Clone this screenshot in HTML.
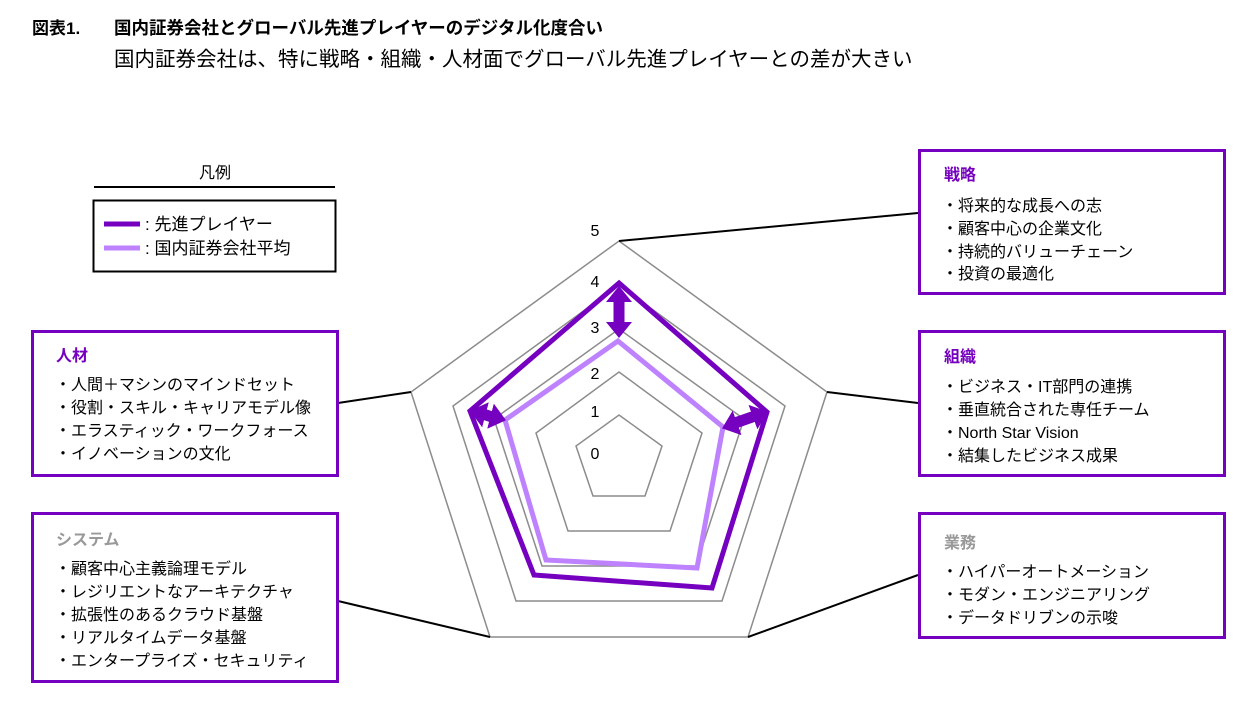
<!DOCTYPE html>
<html><head><meta charset="utf-8"><style>
html,body{margin:0;padding:0;background:#fff;}
svg{display:block;font-family:"Liberation Sans","Noto Sans CJK JP",sans-serif;}
</style></head><body>
<svg width="1255" height="712" viewBox="0 0 1255 712" xmlns="http://www.w3.org/2000/svg">
<defs>
<marker id="ah" viewBox="0 0 16 26" refX="15" refY="13" markerWidth="16" markerHeight="26" markerUnits="userSpaceOnUse" orient="auto-start-reverse">
<path d="M0,0 L16,13 L0,26 Z" fill="#7500c0"/></marker>
</defs>
<text x="32" y="34" font-size="17" font-weight="bold" fill="#000">図表1.</text>
<text x="114" y="34" font-size="17.5" font-weight="bold" fill="#000">国内証券会社とグローバル先進プレイヤーのデジタル化度合い</text>
<text x="114" y="66" font-size="20.5" fill="#000">国内証券会社は、特に戦略・組織・人材面でグローバル先進プレイヤーとの差が大きい</text>

<!-- legend -->
<text x="215" y="178" font-size="16" text-anchor="middle">凡例</text>
<line x1="94" y1="187" x2="335" y2="187" stroke="#000" stroke-width="2"/>
<rect x="93.5" y="200.5" width="242" height="71" fill="none" stroke="#000" stroke-width="2"/>
<line x1="104" y1="224" x2="140" y2="224" stroke="#7500c0" stroke-width="5"/>
<text x="145" y="230" font-size="17">: 先進プレイヤー</text>
<line x1="104" y1="248" x2="140" y2="248" stroke="#be82ff" stroke-width="5"/>
<text x="145" y="254" font-size="17">: 国内証券会社平均</text>

<!-- grid -->
<g fill="none" stroke="#8c8c8c" stroke-width="1.5">
<polygon points="619,415 662,446 645,496 593,496 576,446"/>
<polygon points="619,372 702,433 670,531 568,531 536,433"/>
<polygon points="619,329 744,419 696,566 542,566 494,419"/>
<polygon points="619,285 785,406 722,601 516,601 453,406"/>
<polygon points="619,241 827,392 748,637 490,637 411,392"/>
</g>
<g font-size="16" fill="#000" text-anchor="middle">
<text x="595" y="236">5</text><text x="595" y="287">4</text><text x="595" y="333">3</text>
<text x="595" y="379">2</text><text x="595" y="417">1</text><text x="595" y="459">0</text>
</g>
<!-- connectors -->
<g stroke="#000" stroke-width="2">
<line x1="619" y1="241" x2="918" y2="213"/>
<line x1="827" y1="392" x2="918" y2="403"/>
<line x1="748" y1="637" x2="918" y2="575"/>
<line x1="411" y1="392" x2="338" y2="403"/>
<line x1="490" y1="637" x2="338" y2="601"/>
</g>
<!-- data -->
<polygon points="618,341 723,427 697,568 546,560 505,420" fill="none" stroke="#be82ff" stroke-width="5"/>
<polygon points="619,283 767,412 712,588 534,575 470,411" fill="none" stroke="#7500c0" stroke-width="5"/>
<!-- arrows -->
<g stroke="#7500c0" stroke-width="11">
<line x1="619" y1="300" x2="619" y2="326" />
<line x1="735" y1="423" x2="755" y2="416"/>
<line x1="483" y1="414" x2="492" y2="417"/>
</g>
<line x1="619" y1="287" x2="619" y2="337" stroke="#7500c0" stroke-width="0" marker-start="url(#ah)" marker-end="url(#ah)"/>
<line x1="723" y1="428" x2="767" y2="412" stroke="#7500c0" stroke-width="0" marker-start="url(#ah)" marker-end="url(#ah)"/>
<line x1="471" y1="411" x2="505" y2="420" stroke="#7500c0" stroke-width="0" marker-start="url(#ah)" marker-end="url(#ah)"/>

<!-- boxes -->
<g fill="none" stroke="#7500c0" stroke-width="3">
<rect x="919.5" y="150.5" width="305" height="143"/>
<rect x="919.5" y="331.5" width="305" height="144"/>
<rect x="919.5" y="513.5" width="305" height="124"/>
<rect x="32.5" y="331.5" width="305" height="144"/>
<rect x="32.5" y="513.5" width="305" height="168"/>
</g>
<g font-size="16" fill="#000">
<text x="944" y="180" font-weight="bold" fill="#7500c0">戦略</text>
<text x="942" y="211">・将来的な成長への志</text>
<text x="942" y="234">・顧客中心の企業文化</text>
<text x="942" y="257">・持続的バリューチェーン</text>
<text x="942" y="279">・投資の最適化</text>

<text x="944" y="362" font-weight="bold" fill="#7500c0">組織</text>
<text x="942" y="392">・ビジネス・IT部門の連携</text>
<text x="942" y="415">・垂直統合された専任チーム</text>
<text x="942" y="438">・North Star Vision</text>
<text x="942" y="461">・結集したビジネス成果</text>

<text x="944" y="548" font-weight="bold" fill="#999">業務</text>
<text x="942" y="577">・ハイパーオートメーション</text>
<text x="942" y="600">・モダン・エンジニアリング</text>
<text x="942" y="623">・データドリブンの示唆</text>

<text x="56" y="361" font-weight="bold" fill="#7500c0">人材</text>
<text x="55" y="390">・人間＋マシンのマインドセット</text>
<text x="55" y="413">・役割・スキル・キャリアモデル像</text>
<text x="55" y="436">・エラスティック・ワークフォース</text>
<text x="55" y="459">・イノベーションの文化</text>

<text x="56" y="545" font-weight="bold" fill="#999">システム</text>
<text x="55" y="574">・顧客中心主義論理モデル</text>
<text x="55" y="597">・レジリエントなアーキテクチャ</text>
<text x="55" y="620">・拡張性のあるクラウド基盤</text>
<text x="55" y="643">・リアルタイムデータ基盤</text>
<text x="55" y="666">・エンタープライズ・セキュリティ</text>
</g>
</svg>
</body></html>
